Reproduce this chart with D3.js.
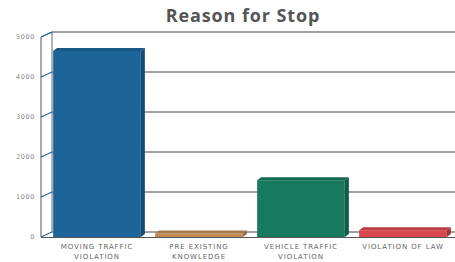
<!DOCTYPE html>
<html>
<head>
<meta charset="utf-8">
<script src="https://cdn.jsdelivr.net/npm/d3@7"></script>
<style>
  body { margin: 0; background: #fff; }
  svg { display: block; }
</style>
</head>
<body>
<script>
var width = 455,
    height = 262;

// chart data
const categories = [["MOVING TRAFFIC", "VIOLATION"], ["PRE EXISTING", "KNOWLEDGE"], ["VEHICLE TRAFFIC", "VIOLATION"], ["VIOLATION OF LAW"]];
const values = [4650, 90, 1420, 170];
const colors = ["#1d6598", "#c08a55", "#177a5c", "#d6464a"];
const yTicks = [0, 1000, 2000, 3000, 4000, 5000];

// 3d offsets: wall depth and bar depth
const wallDx = 11, wallDy = -5;
const barDx = 4, barDy = -3;

const svg = d3.select("body").append("svg")
    .attr("width", width)
    .attr("height", height);

const x = d3.scaleBand()
    .domain(d3.range(categories.length))
    .range([46, 454])
    .paddingInner(0.14)
    .paddingOuter(0.07);

const y = d3.scaleLinear()
    .domain([0, 5000])
    .range([237, 37]);

const axisX = 41;

// title
svg.append("text")
    .attr("x", 243)
    .attr("y", 22)
    .attr("text-anchor", "middle")
    .attr("font-family", "'Open Sans', sans-serif")
    .attr("font-weight", "bold")
    .attr("font-size", 18)
    .attr("letter-spacing", 0.9)
    .attr("fill", "#555")
    .text("Reason for Stop");

// back wall gridlines
svg.append("g")
    .selectAll("line")
    .data(yTicks)
    .join("line")
    .attr("x1", axisX + wallDx)
    .attr("x2", width)
    .attr("y1", d => y(d) + wallDy)
    .attr("y2", d => y(d) + wallDy)
    .attr("stroke", "#444")
    .attr("stroke-width", 1);

// back wall left edge
svg.append("line")
    .attr("x1", axisX + wallDx).attr("x2", axisX + wallDx)
    .attr("y1", y(5000) + wallDy).attr("y2", y(0) + wallDy)
    .attr("stroke", "#666");

// front axis line + top connector
svg.append("path")
    .attr("d", "M" + axisX + "," + y(0) + "V" + y(5000) + "L" + (axisX + wallDx) + "," + (y(5000) + wallDy))
    .attr("fill", "none")
    .attr("stroke", "#555");

// tick connectors from axis to wall
svg.append("g")
    .selectAll("line")
    .data(yTicks)
    .join("line")
    .attr("x1", axisX)
    .attr("y1", d => y(d))
    .attr("x2", axisX + wallDx)
    .attr("y2", d => y(d) + wallDy)
    .attr("stroke", "#1d6598")
    .attr("stroke-width", 1.2);

// floor front edge
svg.append("line")
    .attr("x1", axisX).attr("x2", width)
    .attr("y1", y(0) + 0.5).attr("y2", y(0) + 0.5)
    .attr("stroke", "#555");

// y labels
svg.append("g")
    .selectAll("text")
    .data(yTicks)
    .join("text")
    .attr("x", axisX - 6)
    .attr("y", d => y(d) + 2)
    .attr("text-anchor", "end")
    .attr("font-family", "'DejaVu Sans', sans-serif")
    .attr("font-size", 6.5)
    .attr("letter-spacing", 0.6)
    .attr("fill", "#888")
    .text(d => d);

// bars
const bars = svg.append("g")
    .selectAll("g")
    .data(values)
    .join("g");

bars.append("path")
    .attr("d", (d, i) => {
        const x0 = x(i) + x.bandwidth(), yt = y(d), yb = y(0);
        return "M" + x0 + "," + yt + "l" + barDx + "," + barDy + "V" + (yb + barDy) + "l" + (-barDx) + "," + (-barDy) + "Z";
    })
    .attr("fill", (d, i) => d3.color(colors[i]).darker(0.8));

bars.append("path")
    .attr("d", (d, i) => {
        const x0 = x(i), yt = y(d);
        return "M" + x0 + "," + yt + "l" + barDx + "," + barDy + "h" + x.bandwidth() + "l" + (-barDx) + "," + (-barDy) + "Z";
    })
    .attr("fill", (d, i) => d3.color(colors[i]).darker(0.4));

bars.append("rect")
    .attr("x", (d, i) => x(i))
    .attr("y", d => y(d))
    .attr("width", x.bandwidth())
    .attr("height", d => y(0) - y(d))
    .attr("fill", (d, i) => colors[i]);

// category labels
svg.append("g")
    .selectAll("text")
    .data(categories)
    .join("text")
    .attr("x", (d, i) => x(i) + x.bandwidth() / 2)
    .attr("y", 249)
    .attr("text-anchor", "middle")
    .attr("font-family", "'DejaVu Sans', sans-serif")
    .attr("font-size", 7)
    .attr("letter-spacing", 0.9)
    .attr("fill", "#666")
    .selectAll("tspan")
    .data(d => d)
    .join("tspan")
    .attr("x", function () { return d3.select(this.parentNode).attr("x"); })
    .attr("dy", (d, j) => j === 0 ? 0 : 10)
    .text(d => d);
</script>
</body>
</html>
